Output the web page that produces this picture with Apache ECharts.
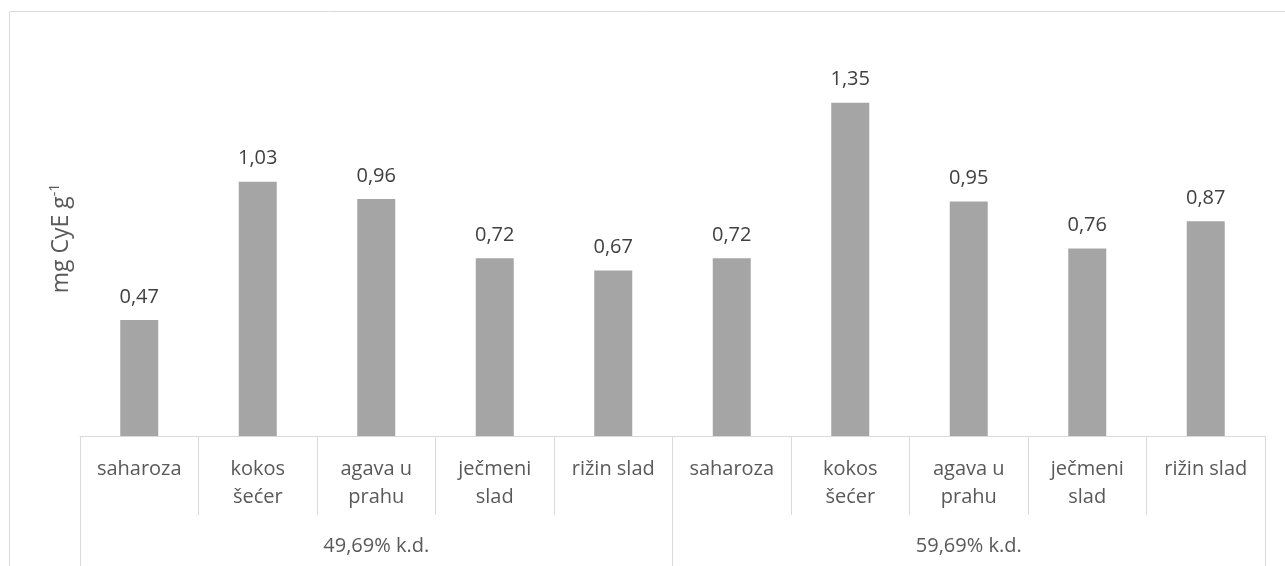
<!DOCTYPE html>
<html><head><meta charset="utf-8">
<script src="https://cdn.jsdelivr.net/npm/echarts@6/dist/echarts.min.js"></script>
<style>html,body{margin:0;padding:0;background:#fff}#c{width:1285px;height:566px}</style>
</head><body><div id="c"></div>
<script>
const categories = ['saharoza', 'kokos\nšećer', 'agava u\nprahu', 'ječmeni\nslad', 'rižin slad',
                    'saharoza', 'kokos\nšećer', 'agava u\nprahu', 'ječmeni\nslad', 'rižin slad'];
const groups = ['49,69% k.d.', '59,69% k.d.'];
const values = [0.47, 1.03, 0.96, 0.72, 0.67, 0.72, 1.35, 0.95, 0.76, 0.87];
const FONT = '"Open Sans", sans-serif';
const chart = echarts.init(document.getElementById('c'), null, {renderer: 'canvas'});
chart.setOption({
  animation: false,
  backgroundColor: '#fff',
  textStyle: {fontFamily: FONT},
  graphic: [{
    type: 'rect', silent: true,
    shape: {x: 9.5, y: 11.5, width: 1400, height: 700},
    style: {fill: 'none', stroke: '#d9d9d9', lineWidth: 1}
  }],
  grid: {left: 80, right: 20, top: 41, bottom: 130},
  xAxis: [{
    type: 'category', data: categories, position: 'bottom',
    axisLine: {show: true, lineStyle: {color: '#d9d9d9', width: 1}},
    axisTick: {show: true, interval: 0, length: 79, lineStyle: {color: '#d9d9d9'}},
    axisLabel: {interval: 0, margin: 19, color: '#595959', fontSize: 20, lineHeight: 28, fontFamily: FONT}
  }, {
    type: 'category', data: groups, position: 'bottom', offset: 79,
    axisLine: {show: false},
    axisTick: {show: true, interval: 0, length: 60, lineStyle: {color: '#d9d9d9'}},
    axisLabel: {interval: 0, margin: 21, color: '#595959', fontSize: 20, fontFamily: FONT}
  }],
  yAxis: {
    type: 'value', min: 0, max: 1.6, show: true,
    axisLine: {show: false}, axisTick: {show: false}, axisLabel: {show: false}, splitLine: {show: false},
    name: '{n|mg CyE g}{s|-1}', nameLocation: 'middle', nameGap: 6, nameRotate: 90,
    nameTextStyle: {rich: {
      n: {fontSize: 23, color: '#595959', fontFamily: FONT},
      s: {fontSize: 14, color: '#595959', fontFamily: FONT, padding: [0, 0, 12, 0]}
    }}
  },
  series: [{
    type: 'bar', data: values, barWidth: 38, xAxisIndex: 0,
    itemStyle: {color: '#a5a5a5'},
    label: {show: true, position: 'top', distance: 13, color: '#404040', fontSize: 20, fontFamily: FONT,
      formatter: p => p.value.toFixed(2).replace('.', ',')}
  }]
});
</script></body></html>
